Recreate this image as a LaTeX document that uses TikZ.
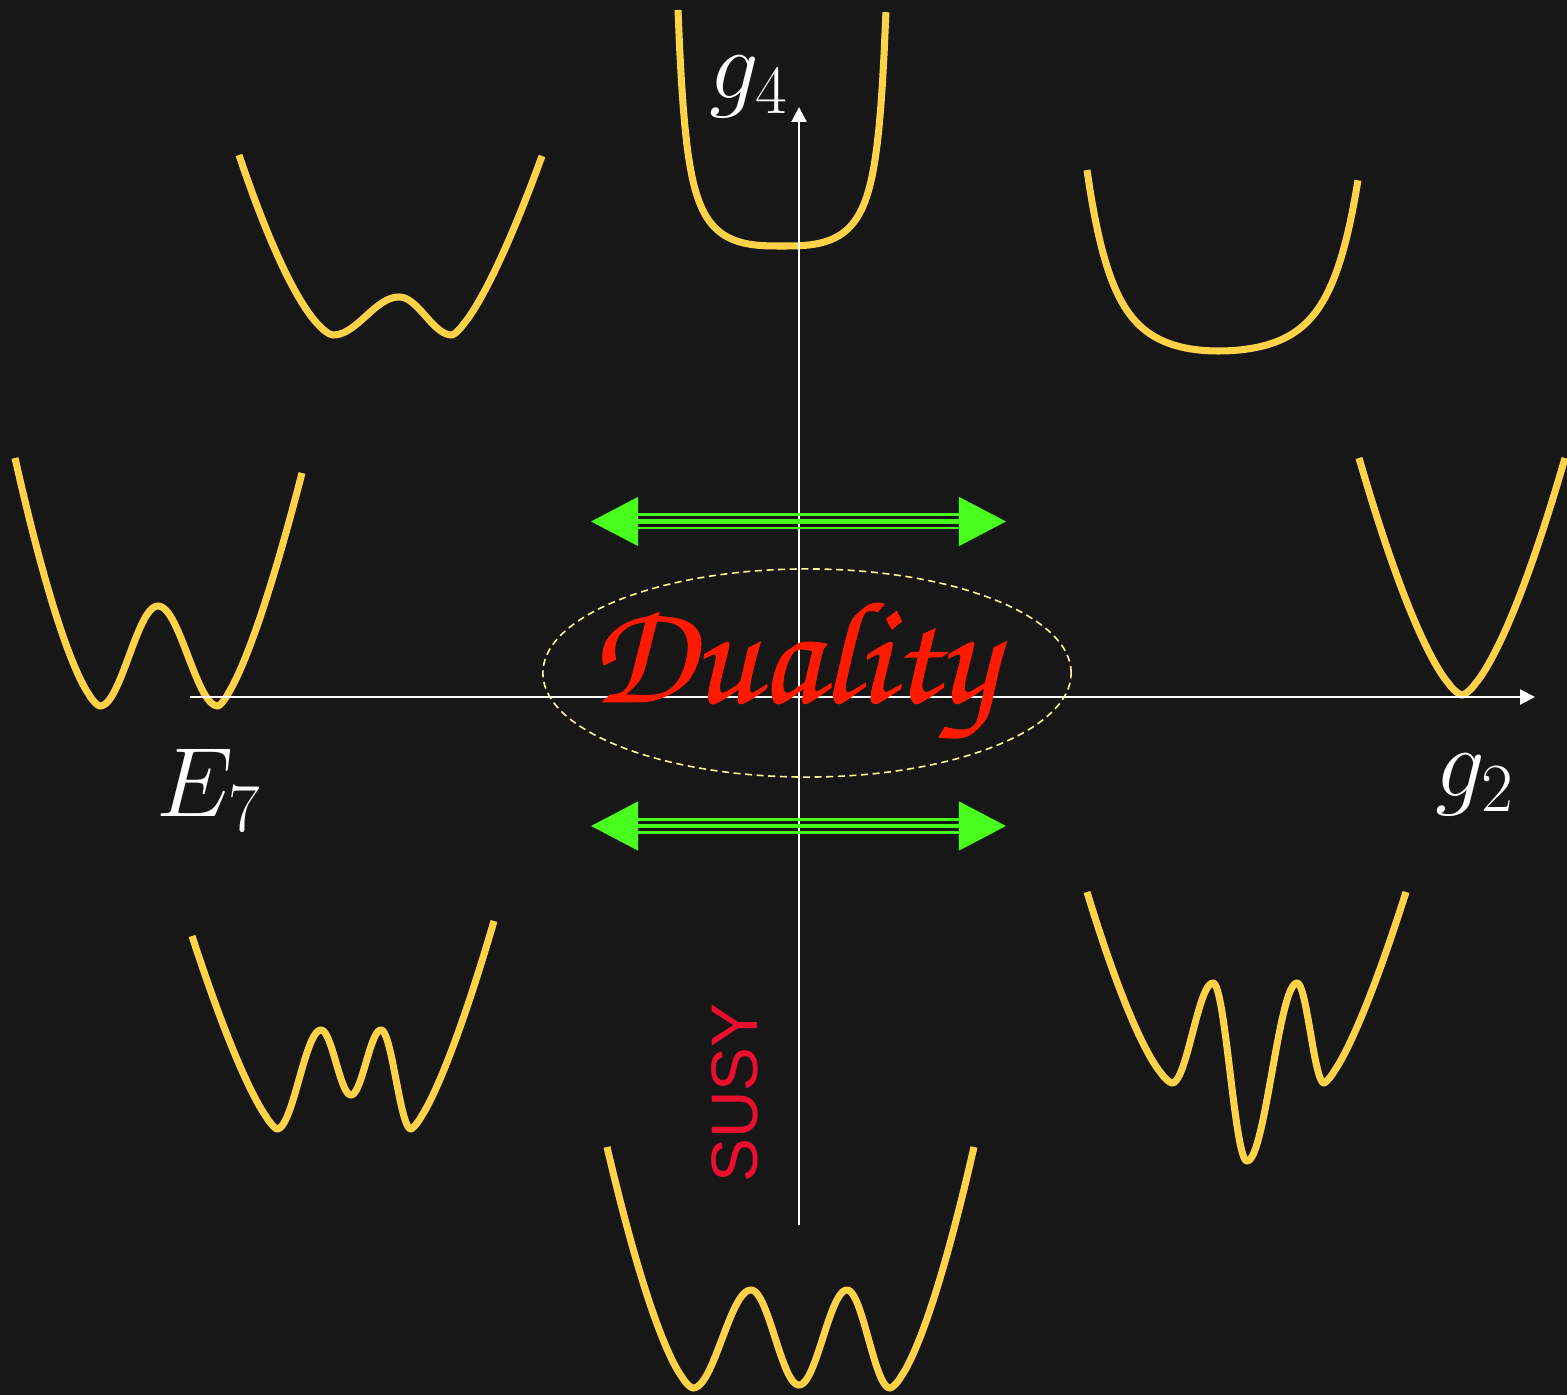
\RequirePackage{fix-cm}
\documentclass[tikz,border=0pt]{standalone}
\usepackage{fontspec}
\newfontfamily\susyfont{Liberation Sans}
\newfontfamily\chorus[FakeBold=0.6]{texgyrechorus-mediumitalic.otf}
\usetikzlibrary{arrows.meta,shapes.geometric}
\definecolor{bg}{RGB}{23,23,23}
\definecolor{potyellow}{RGB}{255,210,72}
\definecolor{dualred}{RGB}{255,26,0}
\definecolor{susyred}{RGB}{236,14,46}
\definecolor{arrowgreen}{RGB}{72,255,30}
\definecolor{ellyellow}{RGB}{255,250,150}
\tikzset{
  pot/.style={draw=potyellow, line width=2pt, line join=round},
  axis/.style={draw=white, line width=0.6pt, -{Triangle[length=0.15cm,width=0.15cm]}},
  lbl/.style={text=white, font=\fontsize{28}{32}\selectfont, inner sep=0pt},
  gmid/.style={draw=arrowgreen, line width=1.3pt, {Triangle[length=0.47cm,width=0.48cm]}-{Triangle[length=0.47cm,width=0.48cm]}},
  gside/.style={draw=arrowgreen, line width=0.85pt, shorten <=0.46cm, shorten >=0.46cm},
}
% left arm: end (#1,#2) down to minimum (#3,#4), exponent #5
\newcommand\armL[5]{plot[domain=1:0.002,samples=40,variable=\t] ({#3+(#1-#3)*\t},{#4+(#2-#4)*(\t)^(#5)})}
% right arm: minimum (#1,#2) up to end (#3,#4), exponent #5
\newcommand\armR[5]{-- plot[domain=0.002:1,samples=40,variable=\t] ({#1+(#3-#1)*\t},{#2+(#4-#2)*(\t)^(#5)})}
% cosine segment between two extrema
\newcommand\cseg[4]{-- plot[domain=0:1,samples=30,variable=\t] ({#1+(#3-#1)*\t},{#2+(#4-#2)*(1-cos(180*\t))/2})}
\begin{document}
\begin{tikzpicture}[x=0.01cm, y=-0.01cm]
\fill[bg] (0,0) rectangle (1567,1395);
\useasboundingbox (0,0) rectangle (1567,1395);

% top-left double well
\draw[pot] \armL{239}{155}{333}{335}{1.55} \cseg{333}{335}{399}{297} \cseg{399}{297}{452}{335} \armR{452}{335}{542}{156}{1.38};
% top centre steep flat well
\draw[pot] plot[domain=-1:1,samples=120,variable=\t] ({782+104*\t},{246-236*(0.25*abs(\t)^3+0.35*abs(\t)^8+0.4*abs(\t)^20)});
% top-right broad well
\draw[pot] plot[domain=1:0,samples=50,variable=\t] ({1218-131*\t},{351-181*(.25*\t*\t+.35*\t*\t*\t*\t+.4*(\t*\t*\t*\t)*(\t*\t*\t*\t))})
  -- plot[domain=0:1,samples=50,variable=\t] ({1218+140*\t},{351-171*(.25*\t*\t+.35*\t*\t*\t*\t+.4*(\t*\t*\t*\t)*(\t*\t*\t*\t))});
% middle-left double well
\draw[pot] \armL{15}{458}{100}{706}{1.52} \cseg{100}{706}{158}{606} \cseg{158}{606}{218}{706} \armR{218}{706}{302}{473}{1.4};
% middle-right single well
\draw[pot] \armL{1359}{458}{1462}{695}{1.5} \armR{1462}{695}{1565}{458}{1.5};
% bottom-left triple well
\draw[pot] \armL{192}{936}{277}{1129}{1.35} \cseg{277}{1129}{321}{1030} \cseg{321}{1030}{351}{1095} \cseg{351}{1095}{381}{1030} \cseg{381}{1030}{411}{1129} \armR{411}{1129}{494}{921}{1.36};
% bottom-right triple well
\draw[pot] \armL{1087}{892}{1172}{1083}{1.46} \cseg{1172}{1083}{1213}{983} \cseg{1213}{983}{1247}{1161} \cseg{1247}{1161}{1297}{983} \cseg{1297}{983}{1324}{1083} \armR{1324}{1083}{1406}{892}{1.35};
% bottom centre triple well
\draw[pot] \armL{607}{1147}{693}{1388}{1.52} \cseg{693}{1388}{751}{1290} \cseg{751}{1290}{799}{1385} \cseg{799}{1385}{847}{1290} \cseg{847}{1290}{890}{1388} \armR{890}{1388}{974}{1147}{1.52};

% axes
\coordinate (xs) at (190,697);
\coordinate (xe) at (1535,697);
\coordinate (ys) at (799,1225);
\coordinate (ye) at (799,107);
\draw[axis] (xs) -- (xe);
\draw[axis] (ys) -- (ye);

% labels
\node[lbl] (g4) at (749,87) {$g_4$};
\node[lbl] (E7) at (209,790) {$E_7$};
\node[lbl] (g2) at (1475,785) {$g_2$};
\node[rotate=90, text=susyred, font=\susyfont\fontsize{18.7}{22}\selectfont, inner sep=0pt] (susy) at (735,1093) {SUSY};

% duality
\node[draw=ellyellow, dashed, dash pattern=on 2pt off 1.3pt, line width=0.45pt, ellipse, minimum width=5.28cm, minimum height=2.08cm] (ell) at (807,673) {};
\node[text=dualred, font=\chorus\fontsize{41.5}{48}\selectfont, anchor=base, inner sep=0pt] (dual) at (793,702) {Duality};

% green double arrows
\coordinate (a1l) at (591,521.5);
\coordinate (a1r) at (1006,521.5);
\coordinate (a2l) at (591,826);
\coordinate (a2r) at (1006,826);
\foreach \l/\r in {a1l/a1r, a2l/a2r}{
  \draw[gside] ([yshift=0.065cm]\l) -- ([yshift=0.065cm]\r);
  \draw[gside] ([yshift=-0.065cm]\l) -- ([yshift=-0.065cm]\r);
  \draw[gmid] (\l) -- (\r);
}
\end{tikzpicture}
\end{document}
